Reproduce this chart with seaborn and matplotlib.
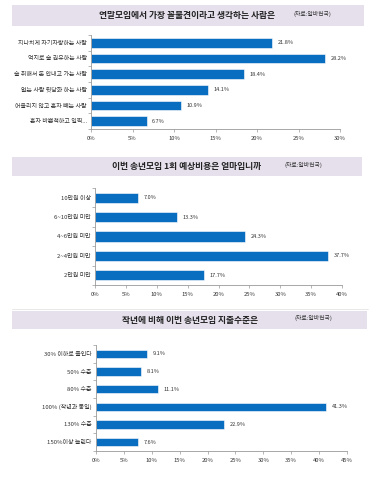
import seaborn as sns
import matplotlib.pyplot as plt
import pandas as pd
from matplotlib.patches import Rectangle
from matplotlib.ticker import FuncFormatter

# data
titles = ["연말모임에서 가장 꼴불견이라고 생각하는 사람은",
          "이번 송년모임 1회 예상비용은 얼마입니까",
          "작년에 비해 이번 송년모임 지출수준은"]
source = "(자료:알바천국)"

cats1 = ["지나치게 자기자랑하는 사람", "억지로 술 권유하는 사람", "술 취해서 돈 안내고 가는 사람",
         "없는 사람 뒷담화 하는 사람", "어울리지 않고 혼자 빼는 사람", "혼자 바쁜척하고 일찍..."]
vals1 = [21.8, 28.2, 18.4, 14.1, 10.9, 6.7]

cats2 = ["10만원 이상", "6~10만원 미만", "4~6만원 미만", "2~4만원 미만", "2만원 미만"]
vals2 = [7.0, 13.3, 24.3, 37.7, 17.7]

cats3 = ["30% 이하로 줄인다", "50% 수준", "80% 수준", "100% (작년과 동일)", "130% 수준", "150%이상 늘린다"]
vals3 = [9.1, 8.1, 11.1, 41.3, 22.9, 7.6]

xmax = [30, 40, 45]

sns.set_style("white")
plt.rcParams['font.family'] = ['Noto Sans CJK KR', 'DejaVu Sans']

W, H = 374, 480
fig = plt.figure(figsize=(W / 100, H / 100), dpi=100)

# pixel boxes: (left, right, top, bottom)
axes_px = [(91, 340, 35, 129), (95, 342, 188, 285), (96, 347, 345, 451)]
bands_px = [(12, 364, 5, 26), (12, 362, 157, 176), (12, 367, 311, 329)]
title_x = [187, 187, 190]
source_x = [312, 303, 313]
bar_w = [0.6, 0.52, 0.48]

bar_color = "#0A6EC0"
panels = [(cats1, vals1), (cats2, vals2), (cats3, vals3)]

for i, (cats, vals) in enumerate(panels):
    l, r, t, b = axes_px[i]
    ax = fig.add_axes([l / W, 1 - b / H, (r - l) / W, (b - t) / H])
    df = pd.DataFrame({"cat": cats, "val": vals})
    sns.barplot(data=df, y="cat", x="val", ax=ax, color=bar_color, orient="h",
                width=bar_w[i], edgecolor="white", linewidth=0.4, saturation=1)
    ax.set_xlim(0, xmax[i])
    ax.set_xticks(range(0, xmax[i] + 1, 5))
    ax.xaxis.set_major_formatter(FuncFormatter(lambda v, p: f"{int(v)}%"))
    ax.set_xlabel("")
    ax.set_ylabel("")
    ax.tick_params(axis="x", labelsize=4.2, length=2, width=0.5, color="#999999",
                   colors="#333333", pad=3, direction="out", bottom=True)
    ax.tick_params(axis="y", labelsize=4.3, length=0, pad=3, colors="#333333")
    ax.set_yticks([k + 0.5 for k in range(-1, len(cats))], minor=True)
    ax.tick_params(axis="y", which="minor", length=2, width=0.5, color="#999999", left=True)
    for s in ["top", "right"]:
        ax.spines[s].set_visible(False)
    for s in ["left", "bottom"]:
        ax.spines[s].set_color("#999999")
        ax.spines[s].set_linewidth(0.6)
    ax.bar_label(ax.containers[0], fmt="%.1f%%", padding=4, fontsize=4.0, color="#333333")

    bl, br, bt, bb = bands_px[i]
    fig.patches.append(Rectangle((bl / W, 1 - bb / H), (br - bl) / W, (bb - bt) / H,
                                 transform=fig.transFigure, facecolor="#E6E0EC",
                                 edgecolor="none", zorder=0))
    yc = 1 - (bt + bb) / 2 / H
    fig.text(title_x[i] / W, yc, titles[i], ha="center", va="center",
             fontsize=6.3, fontweight="bold", color="#222222")
    fig.text(source_x[i] / W, yc + 2 / H, source, ha="center", va="center",
             fontsize=4.2, color="#333333")

# thin separator line above third panel
fig.add_artist(plt.Line2D([12 / W, 368 / W], [1 - 309 / H, 1 - 309 / H],
                          transform=fig.transFigure, color="#E4E4E4", linewidth=0.6))

fig.savefig("out.png", dpi=100)
